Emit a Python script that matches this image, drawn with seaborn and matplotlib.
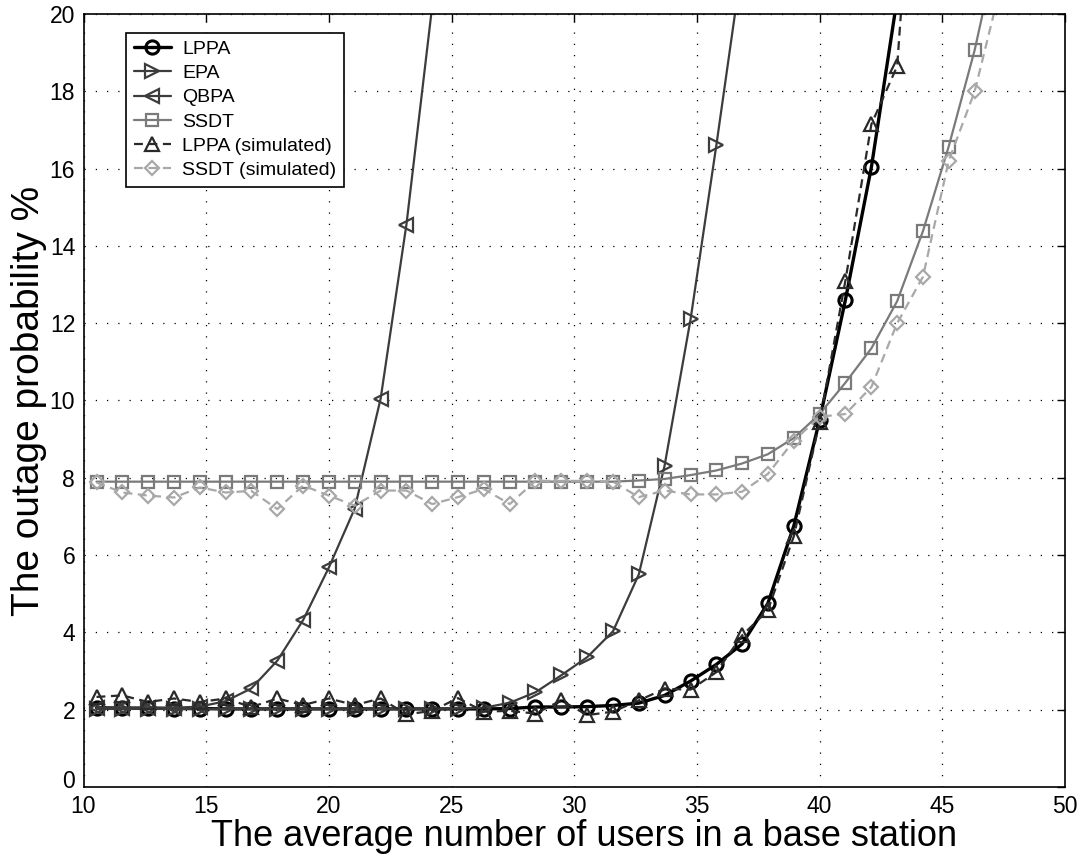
import numpy as np
import pandas as pd
import matplotlib
matplotlib.use("Agg")
import matplotlib.pyplot as plt
import matplotlib.transforms as mtransforms
import seaborn as sns

# ---- data ----
x_users = [10.53, 11.58, 12.63, 13.69, 14.74, 15.79, 16.84, 17.90, 18.95, 20.00,
           21.05, 22.11, 23.16, 24.21, 25.26, 26.32, 27.37, 28.42, 29.47, 30.53,
           31.58, 32.63, 33.68, 34.74, 35.79, 36.84, 37.89, 38.95, 40.00, 41.05,
           42.11, 43.16, 44.21, 45.26, 46.32, 47.37]

lppa = [2.05, 2.04, 2.04, 2.03, 2.03, 2.02, 2.02, 2.02, 2.02, 2.02,
        2.02, 2.02, 2.02, 2.02, 2.02, 2.02, 2.03, 2.07, 2.07, 2.08,
        2.11, 2.17, 2.37, 2.74, 3.17, 3.70, 4.75, 6.76, 9.50, 12.60,
        16.04, 20.40]

epa = [2.02, 2.02, 2.02, 2.02, 2.02, 2.02, 2.02, 2.02, 2.02, 2.02,
       2.02, 2.02, 2.02, 2.02, 2.03, 2.05, 2.18, 2.45, 2.89, 3.36,
       4.03, 5.50, 8.31, 12.10, 16.60, 21.30]

qbpa = [2.05, 2.05, 2.05, 2.05, 2.08, 2.22, 2.55, 3.27, 4.32, 5.68,
        7.20, 10.05, 14.55, 20.20]

ssdt = [7.90, 7.90, 7.90, 7.90, 7.90, 7.90, 7.90, 7.90, 7.90, 7.90,
        7.90, 7.90, 7.90, 7.90, 7.90, 7.90, 7.90, 7.90, 7.90, 7.90,
        7.90, 7.93, 7.97, 8.07, 8.19, 8.37, 8.61, 9.03, 9.65, 10.46,
        11.35, 12.57, 14.38, 16.57, 19.07, 22.10]

lppa_sim = [2.33, 2.37, 2.20, 2.29, 2.20, 2.29, 2.07, 2.29, 2.12, 2.29,
            2.12, 2.29, 1.88, 1.97, 2.30, 1.95, 1.97, 1.90, 2.24, 1.86,
            1.95, 2.24, 2.54, 2.52, 2.97, 3.92, 4.57, 6.49, 9.44, 13.10,
            17.15, 18.65, 28.00]

ssdt_sim = [7.88, 7.62, 7.54, 7.49, 7.75, 7.62, 7.66, 7.19, 7.80, 7.54,
            7.28, 7.67, 7.67, 7.32, 7.50, 7.71, 7.32, 7.92, 7.92, 7.92,
            7.90, 7.50, 7.67, 7.57, 7.57, 7.64, 8.10, 8.96, 9.58, 9.65,
            10.35, 12.00, 13.20, 16.20, 18.00, 20.70]

x_ticks = [10, 15, 20, 25, 30, 35, 40, 45, 50]
y_ticks = [0, 2, 4, 6, 8, 10, 12, 14, 16, 18, 20]

# ---- styling ----
sns.set_style("white")
plt.rcParams['font.family'] = ['Liberation Sans', 'DejaVu Sans']
plt.rcParams['text.color'] = 'black'
plt.rcParams['axes.labelcolor'] = 'black'
plt.rcParams['xtick.color'] = 'black'
plt.rcParams['ytick.color'] = 'black'

fig = plt.figure(figsize=(10.88, 8.56), dpi=100)
ax = fig.add_axes([83.5 / 1088, 1 - 787 / 856, (1065 - 83.5) / 1088, (787 - 14) / 856])

series = [
    ("LPPA", lppa, dict(color="black", linewidth=2.4, linestyle="-", marker="o")),
    ("EPA", epa, dict(color="#3c3c3c", linewidth=1.6, linestyle="-", marker=">")),
    ("QBPA", qbpa, dict(color="#3c3c3c", linewidth=1.6, linestyle="-", marker="<")),
    ("SSDT", ssdt, dict(color="#7a7a7a", linewidth=1.6, linestyle="-", marker="s")),
    ("LPPA (simulated)", lppa_sim, dict(color="#2a2a2a", linewidth=1.6,
                                        linestyle=(0, (4, 2.5)), marker="^")),
    ("SSDT (simulated)", ssdt_sim, dict(color="#a8a8a8", linewidth=1.6,
                                        linestyle=(0, (4, 2.5)), marker="D")),
]

for name, vals, st in series:
    df = pd.DataFrame({"x": x_users[:len(vals)], "y": vals})
    ms = 8 if st["marker"] == "s" else 9.5
    if st["marker"] == "D":
        ms = 7.5
    sns.lineplot(data=df, x="x", y="y", ax=ax, label=name, sort=True,
                 estimator=None, color=st["color"], linewidth=st["linewidth"],
                 linestyle=st["linestyle"], marker=st["marker"], markersize=ms,
                 markerfacecolor="none", markeredgecolor=st["color"],
                 markeredgewidth=1.6 if name != "LPPA" else 2.2)

ax.set_xlim(10, 50)
ax.set_ylim(0, 20)
ax.set_xticks(x_ticks)
ax.set_yticks(y_ticks)
ax.set_xticklabels([str(t) for t in x_ticks])
ax.set_yticklabels([str(t) for t in y_ticks])
ax.tick_params(axis="both", which="both", direction="in", length=6, width=1,
               top=True, right=True, labelsize=16.5, colors="black",
               labelcolor="black", pad=6)
ax.grid(True, linestyle=(0, (1, 8)), color="black", linewidth=0.9)
for sp in ax.spines.values():
    sp.set_color("black")
    sp.set_linewidth(1.2)
    sp.set_visible(True)

# nudge the "0" y tick label up a little, as in the reference, so it clears "10"
zero_lbl = ax.yaxis.get_major_ticks()[0].label1
zero_lbl.set_transform(zero_lbl.get_transform() +
                       mtransforms.ScaledTranslation(0, 6 / 72, fig.dpi_scale_trans))

ax.set_ylabel("The outage probability %", fontsize=28, labelpad=2, color="black")

leg = ax.legend(loc="upper left", bbox_to_anchor=(0.0433, 0.976), borderaxespad=0,
                fontsize=14, frameon=True, fancybox=False, shadow=False,
                handlelength=1.9, labelspacing=0.34, borderpad=0.4,
                handletextpad=0.6)
leg.get_frame().set_edgecolor("black")
leg.get_frame().set_linewidth(1.2)
leg.get_frame().set_alpha(1)
for t in leg.get_texts():
    t.set_color("black")

# x label: place just below the tick labels, shrink until it fits in the figure
fig.canvas.draw()
renderer = fig.canvas.get_renderer()
tick_bottom = min(t.get_window_extent(renderer).y0 for t in ax.get_xticklabels()
                  if t.get_text())
label_top_disp = tick_bottom - 1.0
fs = 26.0
xlabel = ax.set_xlabel("The average number of users in a base station",
                       fontsize=fs, color="black")
while True:
    y_axes = ax.transAxes.inverted().transform((0, label_top_disp))[1]
    ax.xaxis.set_label_coords(0.51, y_axes, transform=ax.transAxes)
    xlabel.set_va("top")
    xlabel.set_fontsize(fs)
    fig.canvas.draw()
    bb = xlabel.get_window_extent(renderer)
    if bb.y0 >= 1.0 or fs <= 18:
        break
    fs -= 0.5

fig.savefig("out.png", dpi=100)
